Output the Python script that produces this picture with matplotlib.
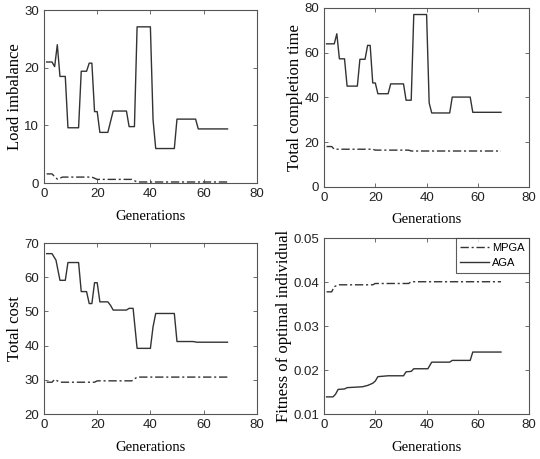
import matplotlib.pyplot as plt

# data: (generation, value) vertices
load_aga_x = [1, 3, 4, 5, 6, 8, 9, 13, 14, 16, 17, 18, 19, 20, 21, 24, 26, 31, 32, 34, 35, 40, 41, 42, 49, 50, 57, 58, 69]
load_aga_y = [21, 21, 20.2, 24, 18.5, 18.5, 9.6, 9.6, 19.4, 19.4, 20.8, 20.8, 12.4, 12.4, 8.8, 8.8, 12.5, 12.5,
              9.8, 9.8, 27.1, 27.1, 11, 6, 6, 11.1, 11.1, 9.4, 9.4]
load_mpga_x = [1, 3, 5, 7, 18, 20, 33, 35, 69]
load_mpga_y = [1.6, 1.6, 0.7, 1.05, 1.05, 0.65, 0.65, 0.2, 0.2]

time_aga_x = [1, 4, 5, 6, 8, 9, 13, 14, 16, 17, 18, 19, 20, 21, 25, 26, 31, 32, 34, 35, 40, 41, 42, 49, 50, 57, 58, 69]
time_aga_y = [63.9, 63.9, 68.4, 57.2, 57.2, 45, 45, 57, 57, 63.2, 63.2, 46.4, 46.4, 41.6, 41.6, 46, 46,
              38.7, 38.7, 77, 77, 37.5, 33, 33, 40.1, 40.1, 33.3, 33.3]
time_mpga_x = [1, 3, 4, 19, 20, 33, 34, 69]
time_mpga_y = [18.0, 18.0, 16.8, 16.8, 16.4, 16.4, 16.0, 16.0]

cost_aga_x = [1, 3, 4.5, 6, 8, 9, 13, 14, 16, 17, 18, 19, 20, 21, 24, 25, 26, 31, 32, 33.5, 35, 40, 41, 42, 49, 50,
              56, 57.5, 69]
cost_aga_y = [66.9, 66.9, 65, 59.1, 59.1, 64.3, 64.3, 55.8, 55.8, 52.3, 52.3, 58.4, 58.4, 52.8, 52.8, 51.8, 50.4,
              50.4, 50.9, 50.9, 39.2, 39.2, 45.5, 49.4, 49.4, 41.2, 41.2, 41.0, 41.0]
cost_mpga_x = [1, 3, 4, 6, 19, 20, 33, 35, 69]
cost_mpga_y = [29.3, 29.3, 30.1, 29.3, 29.3, 29.7, 29.7, 30.8, 30.8]

fit_aga_x = [1, 3.5, 4.5, 5.5, 8, 9, 15, 17, 19, 20, 21, 23, 25, 31, 32, 34, 35, 40.5, 42, 49, 50, 57, 58, 69]
fit_aga_y = [0.0139, 0.0139, 0.0145, 0.0156, 0.0157, 0.0160, 0.0162, 0.0165, 0.0170, 0.0175, 0.0185, 0.0186,
             0.0187, 0.0187, 0.0196, 0.0197, 0.0203, 0.0203, 0.0218, 0.0218, 0.0222, 0.0222, 0.0241, 0.0241]
fit_mpga_x = [1, 3, 4, 6, 19, 20, 33, 34, 69]
fit_mpga_y = [0.0378, 0.0378, 0.0390, 0.0394, 0.0394, 0.0397, 0.0397, 0.0401, 0.0401]

ylabels = ["Load imbalance", "Total completion time", "Total cost", "Fitness of optimal individual"]
ylims = [(0, 30), (0, 80), (20, 70), (0.01, 0.05)]
yticks = [[0, 10, 20, 30], [0, 20, 40, 60, 80], [20, 30, 40, 50, 60, 70], [0.01, 0.02, 0.03, 0.04, 0.05]]
yticklabels = [None, None, None, ["0.01", "0.02", "0.03", "0.04", "0.05"]]
series = [(load_mpga_x, load_mpga_y, load_aga_x, load_aga_y),
          (time_mpga_x, time_mpga_y, time_aga_x, time_aga_y),
          (cost_mpga_x, cost_mpga_y, cost_aga_x, cost_aga_y),
          (fit_mpga_x, fit_mpga_y, fit_aga_x, fit_aga_y)]

rects = [[0.0815, 0.601, 0.394, 0.377],
         [0.600, 0.593, 0.380, 0.390],
         [0.0815, 0.098, 0.394, 0.3725],
         [0.600, 0.098, 0.380, 0.383]]

tickfont = "Liberation Sans"
labelfont = "Liberation Serif"
col = "#333333"

fig = plt.figure(figsize=(5.4, 4.59), dpi=100)
for i in range(4):
    ax = fig.add_axes(rects[i])
    mx, my, ax_x, ax_y = series[i]
    ax.plot(mx, my, color=col, lw=1.0, linestyle=(0, (6, 2, 1.5, 2)), label="MPGA")
    ax.plot(ax_x, ax_y, color=col, lw=1.0, label="AGA")
    ax.set_xlim(0, 80)
    ax.set_ylim(*ylims[i])
    ax.set_xticks([0, 20, 40, 60, 80])
    ax.set_yticks(yticks[i])
    if yticklabels[i]:
        ax.set_yticklabels(yticklabels[i])
    ax.tick_params(direction="in", top=True, right=True, length=3, width=0.6, colors="#555555",
                   labelsize=9.5, labelcolor="#222222")
    for lab in ax.get_xticklabels() + ax.get_yticklabels():
        lab.set_family(tickfont)
    for sp in ax.spines.values():
        sp.set_color("#555555")
        sp.set_linewidth(0.8)
    ax.set_xlabel("Generations", family=labelfont, fontsize=10.5, labelpad=7)
    ax.set_ylabel(ylabels[i], family=labelfont, fontsize=12, labelpad=1)
    if i == 3:
        leg = ax.legend(loc="upper right", prop={"family": tickfont, "size": 8}, fancybox=False,
                        borderaxespad=0.0, handlelength=2.6, borderpad=0.4, labelspacing=0.5,
                        handletextpad=0.3)
        leg.get_frame().set_edgecolor("#333333")
        leg.get_frame().set_linewidth(0.8)

fig.savefig("out.png", dpi=100)
